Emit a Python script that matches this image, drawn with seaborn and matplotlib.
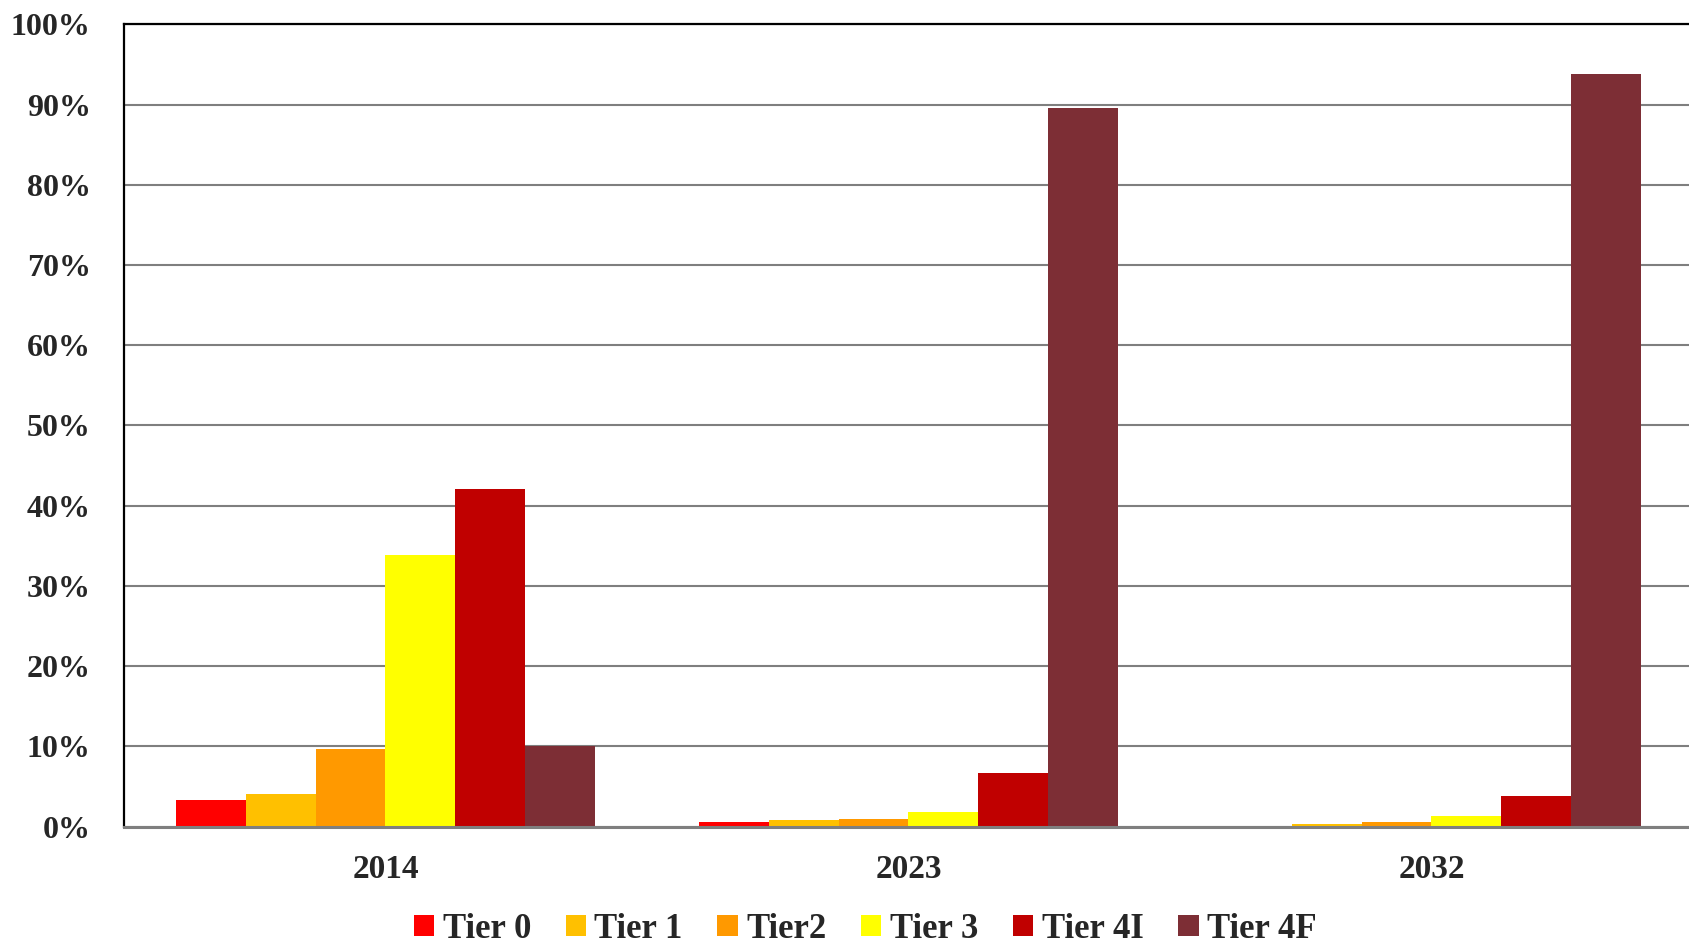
import matplotlib
matplotlib.use("Agg")
import matplotlib.pyplot as plt
import matplotlib.ticker as mticker
from matplotlib.patches import Patch
import pandas as pd
import seaborn as sns

# Share of each tier per year (percent)
years = ["2014", "2023", "2032"]
tiers = ["Tier 0", "Tier 1", "Tier2", "Tier 3", "Tier 4I", "Tier 4F"]
tier_0 = [3.3, 0.6, 0.0]
tier_1 = [4.1, 0.8, 0.25]
tier_2 = [9.6, 0.95, 0.5]
tier_3 = [33.9, 1.75, 1.25]
tier_4i = [42.1, 6.7, 3.8]
tier_4f = [10.05, 89.6, 93.85]
colors = ["#FF0000", "#FFC000", "#FF9900", "#FFFF00", "#C00000", "#7D2E35"]
y_ticks = [0, 10, 20, 30, 40, 50, 60, 70, 80, 90, 100]

series = [tier_0, tier_1, tier_2, tier_3, tier_4i, tier_4f]
rows = []
for tier, vals in zip(tiers, series):
    for yr, v in zip(years, vals):
        rows.append({"year": yr, "tier": tier, "share": v / 100.0})
df = pd.DataFrame(rows)

sns.set_style("white")
plt.rcParams["font.family"] = ["Liberation Serif", "DejaVu Serif"]
plt.rcParams["font.weight"] = "bold"

fig = plt.figure(figsize=(16.9, 9.5), dpi=100)
ax = fig.add_axes([124 / 1690, 123.5 / 950, 1569 / 1690, 802.2 / 950])

sns.barplot(
    data=df, x="year", y="share", hue="tier", order=years, hue_order=tiers,
    palette=colors, width=0.8, linewidth=0, saturation=1, ax=ax, legend=False,
)

ax.set_xlim(-0.5, 2.5)
ax.set_ylim(0, 1.0)
ax.set_yticks([t / 100 for t in y_ticks])
ax.yaxis.set_major_formatter(mticker.FuncFormatter(lambda v, _: f"{round(v * 100)}%"))
ax.set_xlabel("")
ax.set_ylabel("")

ax.grid(axis="y", color="#7F7F7F", linewidth=1.5)
ax.grid(axis="x", visible=False)
ax.set_axisbelow(True)

for side in ("left", "top"):
    ax.spines[side].set_visible(True)
    ax.spines[side].set_color("#000000")
    ax.spines[side].set_linewidth(1.6)
ax.spines["bottom"].set_color("#7F7F7F")
ax.spines["bottom"].set_linewidth(2.2)
ax.spines["right"].set_visible(False)

ax.tick_params(axis="y", length=0, pad=24, labelsize=23)
ax.tick_params(axis="x", length=0, pad=20, labelsize=24)
for lbl in ax.get_xticklabels() + ax.get_yticklabels():
    lbl.set_fontweight("bold")

handles = [Patch(facecolor=c, edgecolor="none", label=t) for c, t in zip(colors, tiers)]
fig.legend(
    handles=handles, loc="center", bbox_to_anchor=(0.512, 0.022), ncol=6,
    frameon=False, prop={"family": "Liberation Serif", "weight": "bold", "size": 25},
    handlelength=0.58, handleheight=0.58, handletextpad=0.25, columnspacing=1.0,
    borderpad=0,
)

fig.savefig("out.png", dpi=100, facecolor="white")
